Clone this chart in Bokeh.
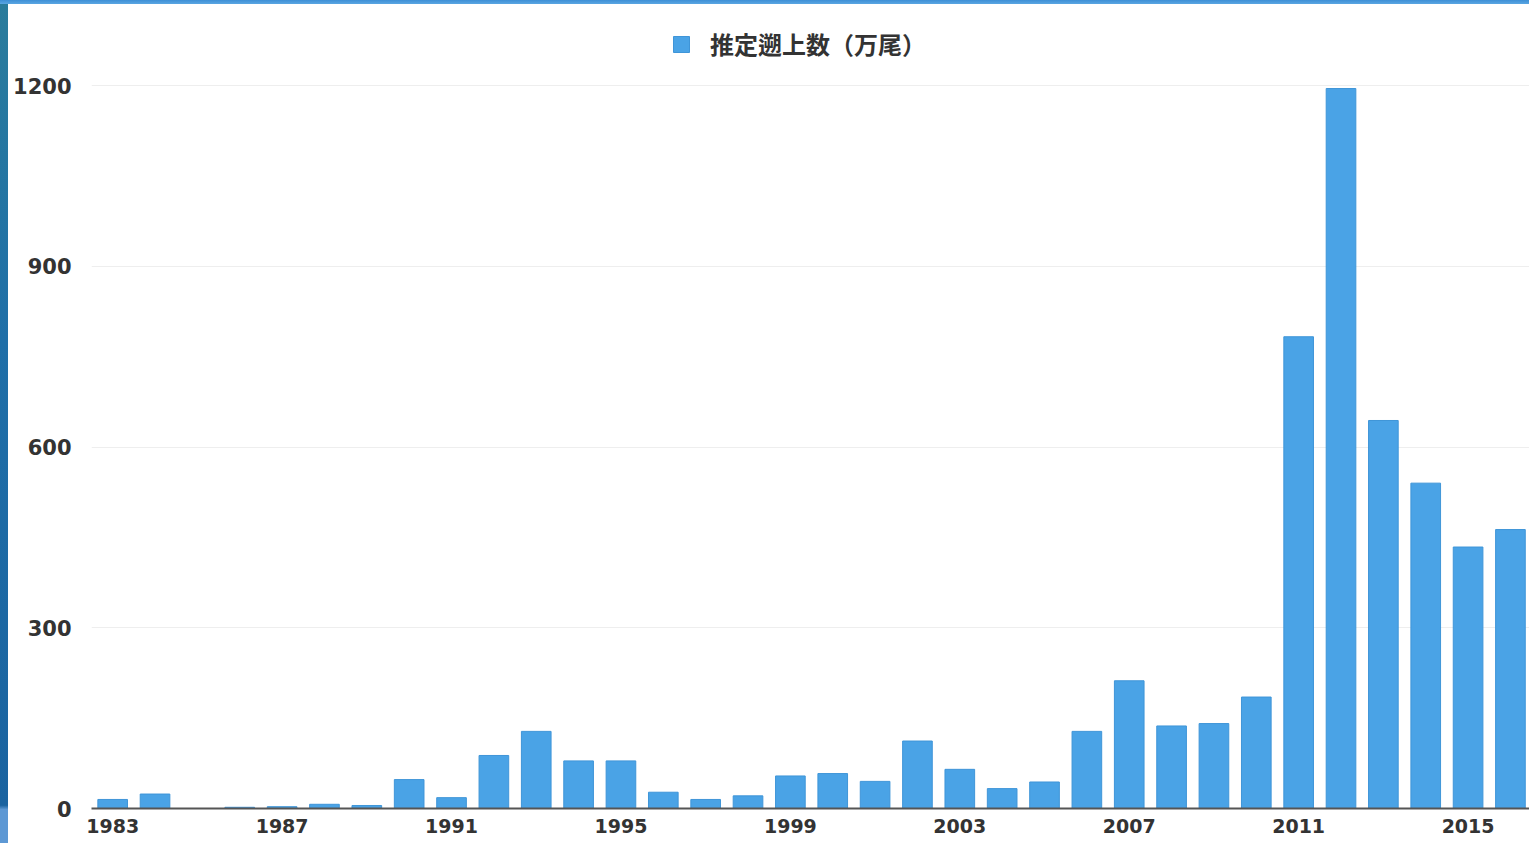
from bokeh.plotting import figure
from bokeh.models import Range1d, FixedTicker, Legend, LegendItem, Div, ColumnDataSource
from bokeh.layouts import column, row
from bokeh.embed import file_html
from bokeh.resources import INLINE

years = list(range(1983, 2017))
values = [15, 24, 0, 2, 3, 7, 5, 48, 18, 88,
          128, 79, 79, 27, 15, 21, 54, 58, 45, 112,
          65, 33, 44, 128, 212, 137, 141, 185, 783, 1195,
          644, 540, 434, 463]
tick_years = [1983, 1987, 1991, 1995, 1999, 2003, 2007, 2011, 2015]
y_ticks = [0, 300, 600, 900, 1200]
series_name = "推定遡上数（万尾）"

BAR = "#4aa3e6"
TXT = "#333333"

src = ColumnDataSource(dict(year=years, value=values))

p = figure(width=1521, height=839, output_backend="svg", toolbar_location=None,
           x_range=Range1d(1982.5, 2016.45), y_range=Range1d(0, 1324.5),
           min_border_left=83, min_border_right=0, min_border_top=6, min_border_bottom=35,
           background_fill_color="white", border_fill_color="white", outline_line_color=None)

r = p.vbar(x="year", top="value", width=0.7, source=src, fill_color=BAR,
           line_color="#3f95d8", line_width=1)

p.xaxis.ticker = FixedTicker(ticks=tick_years)
p.yaxis.ticker = FixedTicker(ticks=y_ticks)
p.xgrid.grid_line_color = None
p.ygrid.grid_line_color = "#eeeeee"
p.ygrid.grid_line_width = 1

for ax in (p.xaxis, p.yaxis):
    ax.major_tick_line_color = None
    ax.minor_tick_line_color = None
    ax.major_label_text_font = "DejaVu Sans"
    ax.major_label_text_font_style = "bold"
    ax.major_label_text_color = TXT

p.xaxis.major_label_text_font_size = "19px"
p.yaxis.major_label_text_font_size = "21px"
p.yaxis.axis_line_color = None
p.yaxis.major_label_standoff = 14
p.xaxis.axis_line_color = "#555555"
p.xaxis.axis_line_width = 2
p.xaxis.major_label_standoff = 4

legend = Legend(items=[LegendItem(label=series_name, renderers=[r])],
                location=(580, 747), orientation="horizontal",
                padding=0, margin=0, border_line_color=None,
                background_fill_alpha=0,
                glyph_width=20, glyph_height=20, label_standoff=19,
                label_text_font="Noto Sans CJK JP", label_text_font_size="24px",
                label_text_font_style="bold", label_text_color=TXT)
p.add_layout(legend)

top_bar = Div(text="", width=1529, height=4, margin=0,
              styles={"background": "linear-gradient(#3d8fd6, #5aa6e2)"})
left_bar = Div(text="", width=8, height=839, margin=0,
               styles={"background": "linear-gradient(#2a7c9c 0%, #1f6fa8 40%, #1a63a0 95.5%, #5d98d4 96%, #5d98d4 100%)"})

layout = column(top_bar, row(left_bar, p, spacing=0), spacing=0)

open("out.html", "w").write(file_html(layout, INLINE))
